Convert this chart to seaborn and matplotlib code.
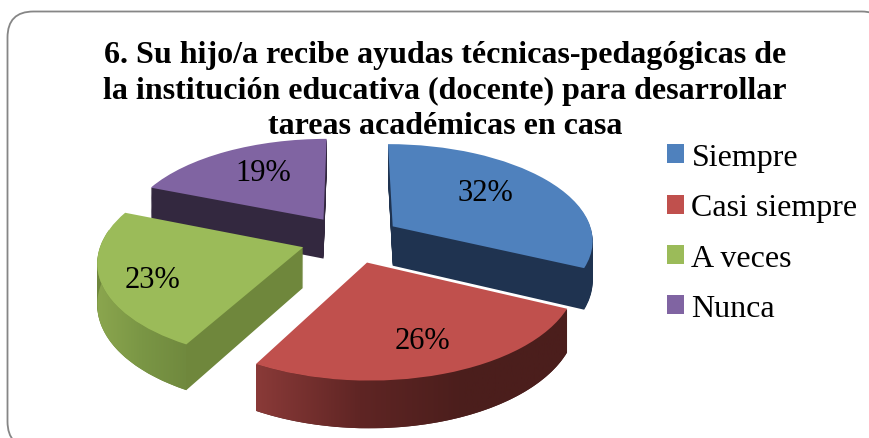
import numpy as np
import seaborn as sns
import matplotlib
matplotlib.use('Agg')
import matplotlib.pyplot as plt
import matplotlib.transforms as mtransforms
from matplotlib.colors import LinearSegmentedColormap
from matplotlib.patches import FancyBboxPatch, Patch, Polygon

title = ('6. Su hijo/a recibe ayudas técnicas-pedagógicas de\n'
         'la institución educativa (docente) para desarrollar\n'
         'tareas académicas en casa')
categories = ['Siempre', 'Casi siempre', 'A veces', 'Nunca']
values = [32, 26, 23, 19]

top_colors = ['#4f81bd', '#c0504d', '#9bbb59', '#8064a2']
side_colors = ['#1f3350', '#4b1e1c', '#6f873c', '#33283f']
rim_colors = [None, ['#8a3a38', '#5f2524', '#4b1e1c', '#4b1e1c'],
              ['#8ba64e', '#7a9645', '#70893e'], None]
draw_order = [3, 0, 2, 1]
label_dist = [0.6, 0.84, 0.82, 0.57]
label_nudge = [(-2, -5), (-7, -14), (14, 4), (-3, -7)]

# perspective of the pie plane, in pixels
CX, CY, RX, RY, K = 351, 240, 201, 96, 0.13
DEPTH = 40


def project(xy, drop=0):
    xy = np.asarray(xy, dtype=float)
    w = 1 + K * xy[..., 1]
    return np.stack([CX + RX * xy[..., 0] / w,
                     CY - (RY * xy[..., 1] - drop) / w], axis=-1)


class Perspective(mtransforms.Transform):
    input_dims = 2
    output_dims = 2

    def __init__(self, drop=0):
        super().__init__()
        self.drop = drop

    def transform_non_affine(self, values):
        return project(values, self.drop)


sns.set_theme(style='white', rc={'font.family': ['Liberation Serif', 'DejaVu Serif']})
palette = sns.color_palette(top_colors)

fig = plt.figure(figsize=(8.7, 4.39), dpi=100, facecolor='white')
ax = fig.add_axes([0, 0, 1, 1])
pie_args = dict(startangle=90, counterclock=False, explode=[0.25] * 4, frame=True,
                wedgeprops={'linewidth': 0})

# side walls: the same pie stacked from the bottom up
for drop in np.arange(DEPTH, 0, -1):
    wedges, _ = ax.pie(values, colors=side_colors, **pie_args)
    for i, w in enumerate(wedges):
        w.set_transform(Perspective(drop) + ax.transData)
        w.set_zorder(10 * draw_order.index(i) + 1)

wedges, _ = ax.pie(values, colors=palette, **pie_args)
for i, w in enumerate(wedges):
    w.set_transform(Perspective() + ax.transData)
    w.set_zorder(10 * draw_order.index(i) + 3)

    # outer rim with its gradient
    if rim_colors[i] is not None:
        t = np.radians(np.linspace(w.theta1, w.theta2, 60))
        t = t[np.sin(t) <= 0.2]
        arc = np.array(w.center) + w.r * np.column_stack([np.cos(t), np.sin(t)])
        outline = np.vstack([project(arc), project(arc, DEPTH)[::-1]])
        clip = Polygon(outline, closed=True, transform=ax.transData, facecolor='none', linewidth=0)
        ax.add_patch(clip)
        cmap = LinearSegmentedColormap.from_list('rim', rim_colors[i])
        img = ax.imshow(np.linspace(0, 1, 256)[None, :], cmap=cmap, aspect='auto',
                        extent=[outline[:, 0].min(), outline[:, 0].max(), 439, 0],
                        zorder=10 * draw_order.index(i) + 2)
        img.set_clip_path(clip)

    mid = np.radians((w.theta1 + w.theta2) / 2)
    pos = np.array(w.center) + label_dist[i] * np.array([np.cos(mid), np.sin(mid)])
    px, py = project(pos)
    ax.text(px + label_nudge[i][0], py + label_nudge[i][1], '%d%%' % values[i],
            ha='center', va='center', fontsize=22, color='black', zorder=100)

ax.set_aspect('auto')
ax.set_xlim(0, 870)
ax.set_ylim(439, 0)
ax.axis('off')

# rounded chart border, white face so agg does not clip the corner curves
ax.add_patch(FancyBboxPatch((7.5, 12.5), 880, 436, boxstyle='round,pad=0,rounding_size=26',
                            facecolor='white', edgecolor='#868686', linewidth=1.3, zorder=0.5))

ax.text(445, 91, title, ha='center', va='center', fontsize=23, fontweight='bold',
        color='black', linespacing=1.28, zorder=101)

handles = [Patch(facecolor=c, linewidth=0) for c in palette]
ax.legend(handles, categories, loc='upper left', bbox_to_anchor=(667.5 / 870, 1 - 144 / 439),
          frameon=False, fontsize=23, handlelength=0.53, handleheight=0.53,
          handletextpad=0.22, labelspacing=0.67, borderpad=0, borderaxespad=0,
          labelcolor='black')

fig.savefig('out.png', dpi=100)
